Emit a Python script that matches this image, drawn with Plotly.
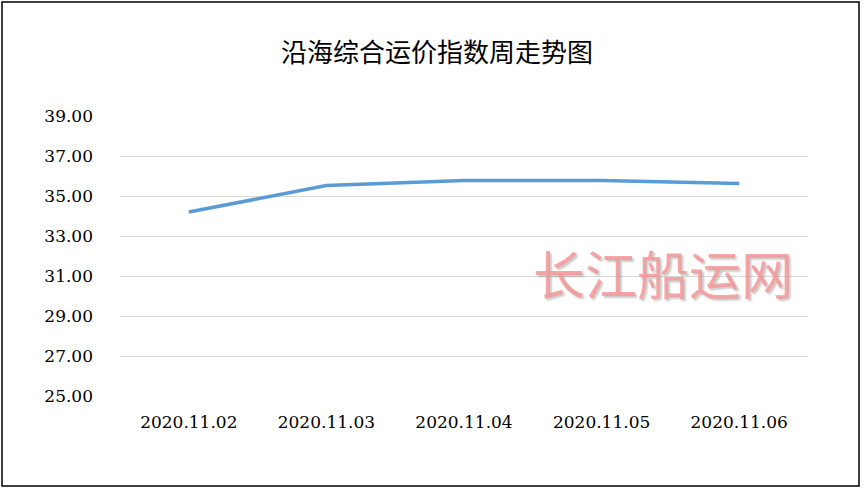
import plotly.graph_objects as go

dates = ["2020.11.02", "2020.11.03", "2020.11.04", "2020.11.05", "2020.11.06"]
index_values = [34.20, 35.52, 35.77, 35.77, 35.62]
y_ticks = [25, 27, 29, 31, 33, 35, 37, 39]
title_text = "沿海综合运价指数周走势图"
watermark = "长江船运网"

W, H = 864, 492
L, R, T, B = 120, 56, 116, 96
pw, ph = W - L - R, H - T - B

def px_x(x):
    return (x - L) / pw

def px_y(y):
    return (H - B - y) / ph

fig = go.Figure()
fig.add_trace(go.Scatter(
    x=dates, y=index_values, mode="lines",
    line=dict(color="#5B9BD5", width=3.5),
    hoverinfo="skip", showlegend=False,
))

fig.update_layout(
    width=W, height=H,
    margin=dict(l=L, r=R, t=T, b=B),
    paper_bgcolor="white", plot_bgcolor="white",
    title=dict(text=title_text, x=px_x(437), xref="paper", xanchor="center",
               y=1 - 53 / H, yref="container", yanchor="middle",
               font=dict(family="Noto Sans CJK SC", size=26, color="#000000")),
    xaxis=dict(type="category", range=[-0.5, 4.5], showgrid=False,
               showline=False, zeroline=False, ticks="", ticklabelstandoff=14,
               tickfont=dict(family="DejaVu Serif", size=17, color="#000000")),
    yaxis=dict(range=[25, 39], tickvals=y_ticks,
               ticktext=[f"{v:.2f}" for v in y_ticks],
               showgrid=True, gridcolor="#D9D9D9", gridwidth=1,
               zeroline=False, showline=False, ticks="", ticklabelstandoff=26,
               tickfont=dict(family="DejaVu Serif", size=17, color="#000000")),
    shapes=[dict(type="rect", xref="paper", yref="paper",
                 x0=px_x(2), x1=px_x(859), y0=px_y(486), y1=px_y(2),
                 line=dict(color="#000000", width=1.5), fillcolor="rgba(0,0,0,0)",
                 layer="above")],
    annotations=[
        dict(text=watermark, xref="paper", yref="paper",
             x=px_x(663), y=px_y(272), xanchor="center", yanchor="middle",
             showarrow=False,
             font=dict(family="Noto Sans CJK SC", size=52,
                       color="rgba(244,150,150,0.85)",
                       shadow="2px 2px 2px rgba(120,120,120,0.45)")),
    ],
)

fig.write_html("out.html", config={"displayModeBar": False},
               post_script="document.body.style.margin='0';")
